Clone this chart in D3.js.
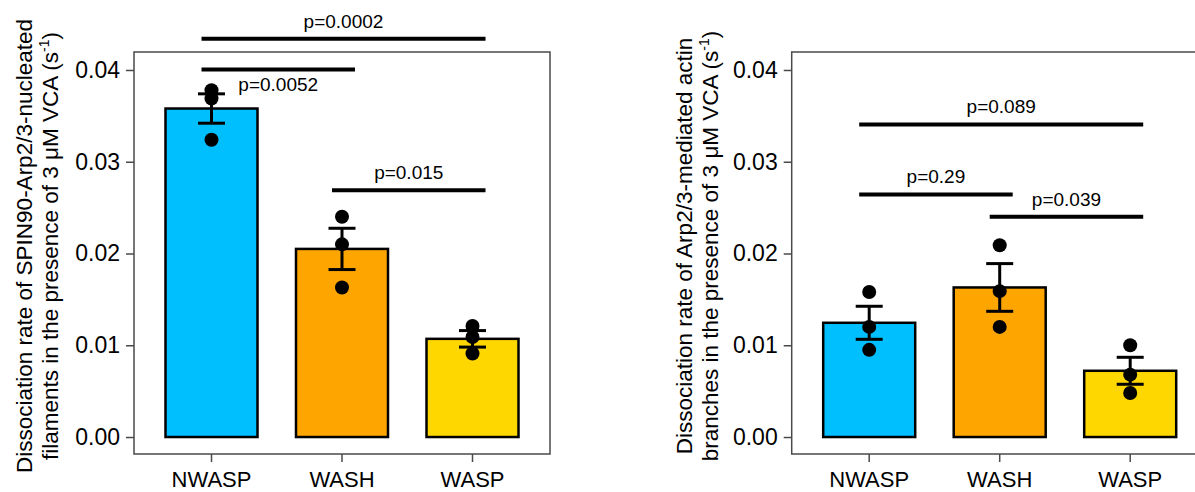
<!DOCTYPE html>
<html>
<head>
<meta charset="utf-8">
<script src="https://cdn.jsdelivr.net/npm/d3@7"></script>
<style>
  body { margin: 0; background: #fff; }
  svg { display: block; font-family: 'Liberation Sans', Arial, Helvetica, sans-serif; }
</style>
</head>
<body>
<div id="chart"></div>
<script>

// Shared axis data.
const categories = ['NWASP', 'WASH', 'WASP']
const yTicks = [0, 0.01, 0.02, 0.03, 0.04]
const barColors = ['#00bfff', '#ffa500', '#ffd700']

// Left panel: SPIN90-Arp2/3-nucleated filaments.
const spinTitle = ['Dissociation rate of SPIN90-Arp2/3-nucleated', 'filaments in the presence of 3 \u03bcM VCA']
const spinMeans = [0.0358, 0.0205, 0.0107]
const spinSem = [0.0016, 0.00225, 0.0009]
const spinPoints = [
  [0.0378, 0.0369, 0.0324],
  [0.0240, 0.0210, 0.0163],
  [0.0121, 0.0109, 0.0091]
]
const spinTests = [
  { from: 'NWASP', to: 'WASP', y: 0.0434, label: 'p=0.0002', below: false },
  { from: 'NWASP', to: 'WASH', y: 0.04005, label: 'p=0.0052', below: true },
  { from: 'WASH', to: 'WASP', y: 0.0269, label: 'p=0.015', below: false }
]

// Right panel: Arp2/3-mediated actin branches.
const branchTitle = ['Dissociation rate of Arp2/3-mediated actin', 'branches in the presence of 3 \u03bcM VCA']
const branchMeans = [0.01245, 0.0163, 0.00722]
const branchSem = [0.0018, 0.0026, 0.00147]
const branchPoints = [
  [0.0158, 0.0120, 0.0095],
  [0.0209, 0.0159, 0.0120],
  [0.0100, 0.0068, 0.0048]
]
const branchTests = [
  { from: 'NWASP', to: 'WASP', y: 0.03406, label: 'p=0.089', below: false },
  { from: 'NWASP', to: 'WASH', y: 0.02644, label: 'p=0.29', below: false },
  { from: 'WASH', to: 'WASP', y: 0.0240, label: 'p=0.039', below: false }
]

const width = 1195,
    height = 492

const svg = d3.select('#chart')
  .append('svg')
    .attr('width', width)
    .attr('height', height)

// Same value scale for both panels.
const y = d3.scaleLinear()
  .domain([-0.00185, 0.04196])
  .range([454, 52])

function drawPanel(x0, titleX, title, means, sem, points, tests) {

  const boxWidth = 416

  const x = d3.scaleBand()
    .domain(categories)
    .range([x0 + 12.25, x0 + 403.75])
    .paddingInner(0.295)
    .paddingOuter(0.1475)

  const bw = x.bandwidth()
  const cx = function(c) { return x(c) + bw / 2 }

  const g = svg.append('g')

  // Frame.
  g.append('rect')
    .attr('x', x0)
    .attr('y', y.range()[1])
    .attr('width', boxWidth)
    .attr('height', y.range()[0] - y.range()[1])
    .attr('fill', 'none')
    .attr('stroke', '#4a4a4a')
    .attr('stroke-width', 1.5)

  // Axes.
  const yAxis = g.append('g')
    .attr('transform', 'translate(' + x0 + ',0)')
    .call(d3.axisLeft(y).tickValues(yTicks).tickFormat(d3.format('.2f')).tickSize(8).tickPadding(6))
  yAxis.select('.domain').remove()
  yAxis.selectAll('.tick text').style('font-size', '23px')

  const xAxis = g.append('g')
    .attr('transform', 'translate(0,' + y.range()[0] + ')')
    .call(d3.axisBottom(x).tickSize(8).tickPadding(9))
  xAxis.select('.domain').remove()
  xAxis.selectAll('.tick text').style('font-size', '22px')

  g.selectAll('.tick line')
    .attr('stroke', '#4a4a4a')
    .attr('stroke-width', 1.5)
  g.selectAll('.tick text')
    .attr('fill', '#000')

  // Bars.
  g.selectAll('rect.bar')
    .data(categories)
    .enter()
    .append('rect')
      .attr('class', 'bar')
      .attr('x', function(d) { return x(d) })
      .attr('y', function(d, i) { return y(means[i]) })
      .attr('width', bw)
      .attr('height', function(d, i) { return y(0) - y(means[i]) })
      .attr('fill', function(d, i) { return barColors[i] })
      .attr('stroke', '#000')
      .attr('stroke-width', 2.5)

  // Individual points.
  categories.forEach(function(c, i) {
    g.selectAll('circle.p' + i)
      .data(points[i])
      .enter()
      .append('circle')
        .attr('cx', cx(c))
        .attr('cy', function(d) { return y(d) })
        .attr('r', 7)
        .attr('fill', '#000')
  })

  // Error bars (mean +/- SEM).
  const cap = 13.5
  categories.forEach(function(c, i) {
    const top = y(means[i] + sem[i]),
        bottom = y(means[i] - sem[i])
    const eb = g.append('g')
      .attr('stroke', '#000')
      .attr('stroke-width', 3)
    eb.append('line')
      .attr('x1', cx(c)).attr('x2', cx(c))
      .attr('y1', top).attr('y2', bottom)
    eb.append('line')
      .attr('x1', cx(c) - cap).attr('x2', cx(c) + cap)
      .attr('y1', top).attr('y2', top)
    eb.append('line')
      .attr('x1', cx(c) - cap).attr('x2', cx(c) + cap)
      .attr('y1', bottom).attr('y2', bottom)
  })

  // Significance brackets.
  tests.forEach(function(t) {
    const xa = cx(t.from) - 10,
        xb = cx(t.to) + 13
    g.append('line')
      .attr('x1', xa).attr('x2', xb)
      .attr('y1', y(t.y)).attr('y2', y(t.y))
      .attr('stroke', '#000')
      .attr('stroke-width', 4)
    g.append('text')
      .attr('x', (xa + xb) / 2)
      .attr('y', y(t.y) + (t.below ? 21 : -11))
      .attr('text-anchor', 'middle')
      .style('font-size', '19px')
      .text(t.label)
  })

  // Axis title (two lines, rotated).
  const cy = 246
  g.append('text')
    .attr('transform', 'translate(' + titleX + ',' + cy + ') rotate(-90)')
    .attr('text-anchor', 'middle')
    .style('font-size', '22.5px')
    .text(title[0])

  const t2 = g.append('text')
    .attr('transform', 'translate(' + (titleX + 26) + ',' + cy + ') rotate(-90)')
    .attr('text-anchor', 'middle')
    .style('font-size', '22.5px')
  t2.append('tspan').text(title[1] + ' (s')
  t2.append('tspan').attr('dy', -9).style('font-size', '14px').text('-1')
  t2.append('tspan').attr('dy', 9).text(')')
}

drawPanel(134, 32, spinTitle, spinMeans, spinSem, spinPoints, spinTests)
drawPanel(791.7, 692, branchTitle, branchMeans, branchSem, branchPoints, branchTests)

</script>
</body>
</html>
